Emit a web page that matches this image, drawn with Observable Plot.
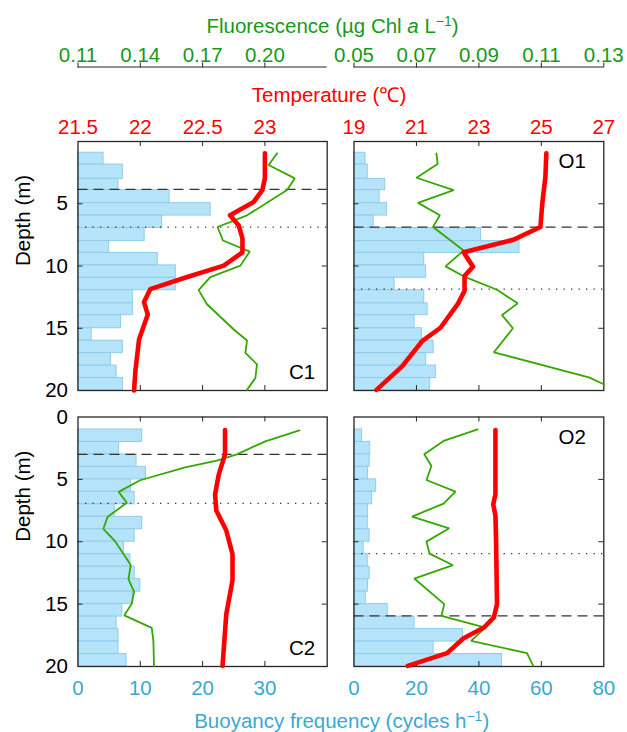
<!DOCTYPE html>
<html>
<head>
<meta charset="utf-8">
<script src="https://cdn.jsdelivr.net/npm/d3@7"></script>
<script src="https://cdn.jsdelivr.net/npm/@observablehq/plot@0.6"></script>
<style>
  body { margin: 0; background: #fff; }
  #chart { position: relative; width: 627px; height: 732px; overflow: hidden;
           font-family: "Liberation Sans", Arial, Helvetica, sans-serif; }
  #chart svg { position: absolute; left: 0; top: 0; }
  .title { position: absolute; font-size: 20.5px; line-height: 20px; white-space: nowrap; transform: translateX(-50%); }
  .sup { position: relative; top: -0.55em; font-size: 0.68em; }
</style>
</head>
<body>
<div id="chart"></div>
<script>
// ---------------- data ----------------
// depth edges (m) of the buoyancy-frequency bins
const topRowEdges = [0.9, 1.85, 3.0, 3.9, 4.95, 5.95, 6.95, 8.0, 8.95, 9.95, 10.95, 11.95, 13.0, 13.95, 15.0, 16.0, 17.0, 18.0, 19.0, 20.0];
const bottomRowEdges = [1, 2, 3, 4, 5, 6, 7, 8, 9, 10, 11, 12, 13, 14, 15, 16, 17, 18, 19, 20];

// buoyancy frequency (cycles h^-1) per bin
const c1Buoy = [4.1, 7.2, 6.5, 14.7, 21.3, 13.5, 10.7, 5.0, 12.8, 15.7, 15.7, 8.8, 8.8, 6.9, 2.2, 7.2, 5.3, 6.2, 7.2];
const o1Buoy = [3.7, 4.4, 10.0, 8.2, 10.6, 6.3, 40.7, 53.0, 22.5, 23.1, 13.0, 22.5, 23.6, 19.4, 21.8, 25.5, 23.1, 26.2, 24.4];
const c2Buoy = [10.3, 6.6, 9.4, 10.9, 8.5, 9.1, 5.9, 10.3, 9.1, 7.4, 8.4, 9.1, 10.0, 8.8, 7.1, 6.2, 6.5, 6.5, 7.8];
const o2Buoy = [2.6, 5.2, 5.0, 4.5, 7.1, 5.8, 4.5, 4.4, 5.0, 3.1, 4.4, 5.0, 4.5, 3.8, 10.8, 19.4, 34.9, 25.5, 47.4];

// temperature profiles (°C)
const c1TempDepth = [0.95, 2.96, 3.9, 4.85, 5.93, 6.74, 7.8, 8.9, 9.97, 10.9, 11.86, 12.9, 13.9, 15.9, 18.5, 20.0];
const c1Temp      = [23.0, 23.0, 22.98, 22.91, 22.72, 22.79, 22.82, 22.82, 22.67, 22.37, 22.08, 22.03, 22.06, 21.99, 21.96, 21.95];
const o1TempDepth = [0.95, 2.83, 4.99, 6.87, 7.9, 8.9, 10.05, 10.8, 12.0, 13.07, 14.96, 16.04, 18.06, 19.95];
const o1Temp      = [25.16, 25.13, 25.03, 24.97, 24.10, 22.51, 22.81, 22.54, 22.54, 22.32, 21.77, 21.18, 20.54, 19.72];
const c2TempDepth = [1.05, 3.0, 4.6, 6.2, 7.5, 9.1, 11.0, 13.1, 15.8, 19.95];
const c2Temp      = [22.68, 22.68, 22.63, 22.60, 22.61, 22.69, 22.74, 22.74, 22.69, 22.66];
const o2TempDepth = [1.05, 6.2, 7.0, 7.93, 9.93, 15.0, 16.07, 16.88, 17.73, 18.93, 19.95];
const o2Temp      = [23.53, 23.53, 23.46, 23.53, 23.55, 23.58, 23.48, 23.16, 22.51, 21.98, 20.72];

// fluorescence profiles (µg Chl a L^-1)
const c1FluorDepth = [0.95, 1.89, 2.96, 3.9, 5.93, 6.87, 7.95, 8.84, 9.97, 10.9, 11.94, 13.07, 15.1, 15.98, 16.98, 17.9, 19.0, 19.95];
const c1Fluor      = [0.2059, 0.2018, 0.2144, 0.2107, 0.1914, 0.1772, 0.1798, 0.1927, 0.1882, 0.1737, 0.1681, 0.1721, 0.1850, 0.1914, 0.1906, 0.1962, 0.1954, 0.1914];
const o1FluorDepth = [0.95, 1.81, 2.91, 3.9, 4.93, 5.93, 6.87, 8.76, 10.03, 10.9, 11.91, 13.0, 13.94, 15.0, 16.93, 18.95, 19.5];
const o1Fluor      = [0.0764, 0.0768, 0.0700, 0.0819, 0.0705, 0.0775, 0.0753, 0.0851, 0.0793, 0.0857, 0.0958, 0.1024, 0.0974, 0.1009, 0.0948, 0.1252, 0.1300];
const c2FluorDepth = [1.07, 1.95, 3.0, 3.49, 4.03, 5.07, 6.0, 6.88, 8.0, 8.96, 9.95, 11.87, 13.0, 14.0, 14.96, 15.9, 16.9, 17.95, 19.95];
const c2Fluor      = [0.2166, 0.2002, 0.1865, 0.1769, 0.1616, 0.1399, 0.1296, 0.1335, 0.1243, 0.1222, 0.1278, 0.1354, 0.1343, 0.1370, 0.1359, 0.1323, 0.1455, 0.1463, 0.1466];
const o2FluorDepth = [0.99, 1.92, 2.99, 3.93, 5.05, 5.98, 6.94, 7.98, 8.92, 9.99, 10.95, 11.88, 12.95, 15.0, 15.94, 16.88, 17.94, 18.93, 19.95];
const o2Fluor      = [0.0896, 0.0787, 0.0725, 0.0748, 0.0732, 0.0825, 0.0787, 0.0686, 0.0805, 0.0732, 0.0742, 0.0817, 0.0693, 0.0789, 0.0780, 0.0921, 0.0875, 0.1054, 0.1074];

// reference depths (m): dashed and dotted lines, per panel C1, O1, C2, O2
const dashedDepth = [3.85, 6.87, 3.0, 15.94];
const dottedDepth = [6.87, 11.86, 6.93, 10.95];

// panel names and tick labels
const panelNames = ["C1", "O1", "C2", "O2"];
const buoyTicks = [[0, 10, 20, 30], [0, 20, 40, 60, 80]];
const buoyDomain = [[0, 40], [0, 80]];
const tempTicks = [[21.5, 22, 22.5, 23], [19, 21, 23, 25, 27]];
const tempDomain = [[21.5, 23.5], [19, 27]];
const fluorTicks = [[0.11, 0.14, 0.17, 0.20], [0.05, 0.07, 0.09, 0.11, 0.13]];
const fluorDomain = [[0.11, 0.23], [0.05, 0.13]];
const depthTicksTop = [5, 10, 15, 20];
const depthTicksBottom = [0, 5, 10, 15, 20];
const depthInnerTicks = [5, 10, 15];

// ---------------- layout / style ----------------
const W = 627, H = 732;
const FONT = '"Liberation Sans", Arial, Helvetica, sans-serif';
const FS = 20.5;
const colX = [[77.5, 326.7], [353.5, 603.3]];
const rowY = [[141, 390], [416.5, 666]];
const RED = "#ff0000", GREEN = "#35a800", GREEN_TXT = "#18991a", BLUE_TXT = "#3aa8d3";
const BAR_FILL = "#b5e4fa", BAR_STROKE = "#92cbe8", FRAME = "#262626";

const chart = document.getElementById("chart");

function layer(col, row, xDomain, marks, yOverride) {
  const [l, r] = colX[col];
  const [t, b] = yOverride || rowY[row];
  const svg = Plot.plot({
    width: W, height: H,
    marginLeft: l, marginRight: W - r, marginTop: t, marginBottom: H - b,
    x: {domain: xDomain, axis: null},
    y: yOverride ? {domain: [0, 1], axis: null} : {domain: [0, 20], reverse: true, axis: null},
    style: {background: "transparent", overflow: "visible", fontFamily: FONT, fontSize: FS + "px", color: "black"},
    marks
  });
  chart.appendChild(svg);
}

const panelData = [
  {edges: topRowEdges, buoy: c1Buoy, tD: c1TempDepth, t: c1Temp, fD: c1FluorDepth, f: c1Fluor},
  {edges: topRowEdges, buoy: o1Buoy, tD: o1TempDepth, t: o1Temp, fD: o1FluorDepth, f: o1Fluor},
  {edges: bottomRowEdges, buoy: c2Buoy, tD: c2TempDepth, t: c2Temp, fD: c2FluorDepth, f: c2Fluor},
  {edges: bottomRowEdges, buoy: o2Buoy, tD: o2TempDepth, t: o2Temp, fD: o2FluorDepth, f: o2Fluor}
];

panelData.forEach((p, i) => {
  const col = i % 2, row = Math.floor(i / 2);
  const bDom = buoyDomain[col];
  const bins = p.buoy.map((v, k) => ({v, d0: p.edges[k], d1: p.edges[k + 1]}));
  const tickLenX = (bDom[1] - bDom[0]) * 0.02;
  const innerX = buoyTicks[col].filter(v => v > bDom[0] && v < bDom[1]);

  const marks = [
    Plot.rect(bins, {x1: 0, x2: "v", y1: "d0", y2: "d1", fill: BAR_FILL, stroke: BAR_STROKE, strokeWidth: 1}),
    Plot.ruleY([dashedDepth[i]], {stroke: "#333", strokeWidth: 1.2, strokeDasharray: "10,6"}),
    Plot.ruleY([dottedDepth[i]], {stroke: "#333", strokeWidth: 1.3, strokeDasharray: "1.3,6.2"}),
    Plot.ruleX(innerX, {y1: 0, y2: 0.4, stroke: FRAME}),
    Plot.ruleX(innerX, {y1: 19.6, y2: 20, stroke: FRAME}),
    Plot.ruleY(depthInnerTicks, {x1: bDom[0], x2: bDom[0] + tickLenX, stroke: FRAME}),
    Plot.ruleY(depthInnerTicks, {x1: bDom[1] - tickLenX, x2: bDom[1], stroke: FRAME}),
    Plot.frame({stroke: FRAME, strokeWidth: 1.3})
  ];
  if (col === 0) {
    marks.push(Plot.axisY(row === 0 ? depthTicksTop : depthTicksBottom,
      {anchor: "left", tickSize: 0, tickPadding: 10, label: null, fontSize: FS, color: "black"}));
    marks.push(Plot.text(["Depth (m)"], {frameAnchor: "left", rotate: -90, dx: -54.5, fontSize: FS, fill: "black"}));
  }
  if (row === 1) {
    marks.push(Plot.axisX(buoyTicks[col], {anchor: "bottom", tickSize: 0, tickPadding: 14, label: null, fontSize: FS, color: BLUE_TXT}));
  }
  const nameTop = (i === 1 || i === 3);
  marks.push(Plot.text([panelNames[i]], {
    frameAnchor: nameTop ? "top-right" : "bottom-right",
    textAnchor: "end", lineAnchor: nameTop ? "top" : "bottom",
    dx: nameTop ? -18 : -12, dy: nameTop ? 12 : -12, fontSize: FS, fill: "black"
  }));
  layer(col, row, bDom, marks);

  // fluorescence layer
  const fl = p.f.map((v, k) => ({v, d: p.fD[k]}));
  layer(col, row, fluorDomain[col], [
    Plot.line(fl, {x: "v", y: "d", stroke: GREEN, strokeWidth: 1.8, strokeLinejoin: "miter"})
  ]);

  // temperature layer
  const tl = p.t.map((v, k) => ({v, d: p.tD[k]}));
  const tMarks = [Plot.line(tl, {x: "v", y: "d", stroke: RED, strokeWidth: 4.6, strokeLinejoin: "round"})];
  if (row === 0) {
    tMarks.push(Plot.axisX(tempTicks[col], {anchor: "top", tickSize: 0, tickPadding: 8, label: null, fontSize: FS,
      color: RED, tickFormat: d => String(d)}));
  }
  layer(col, row, tempDomain[col], tMarks);

  // fluorescence axis above the top row
  if (row === 0) {
    layer(col, row, fluorDomain[col], [
      Plot.ruleY([1], {stroke: FRAME, strokeWidth: 1.2}),
      Plot.axisX(fluorTicks[col], {anchor: "top", tickSize: 5, tickPadding: 0, label: null, fontSize: FS,
        stroke: FRAME, fill: GREEN_TXT, tickFormat: d3.format(".2f")})
    ], [66.5, 67.5]);
  }
});

// titles
function title(html, cx, baseline, color) {
  const d = document.createElement("div");
  d.className = "title";
  d.style.left = cx + "px";
  d.style.top = (baseline - 17) + "px";
  d.style.color = color;
  d.innerHTML = html;
  chart.appendChild(d);
}
title('Fluorescence (µg Chl <i>a</i> L<span class="sup">−1</span>)', 332.5, 33.3, GREEN_TXT);
title('Temperature (℃)', 329, 101.7, RED);
title('Buoyancy frequency (cycles h<span class="sup">−1</span>)', 341.7, 728.3, BLUE_TXT);
</script>
</body>
</html>
